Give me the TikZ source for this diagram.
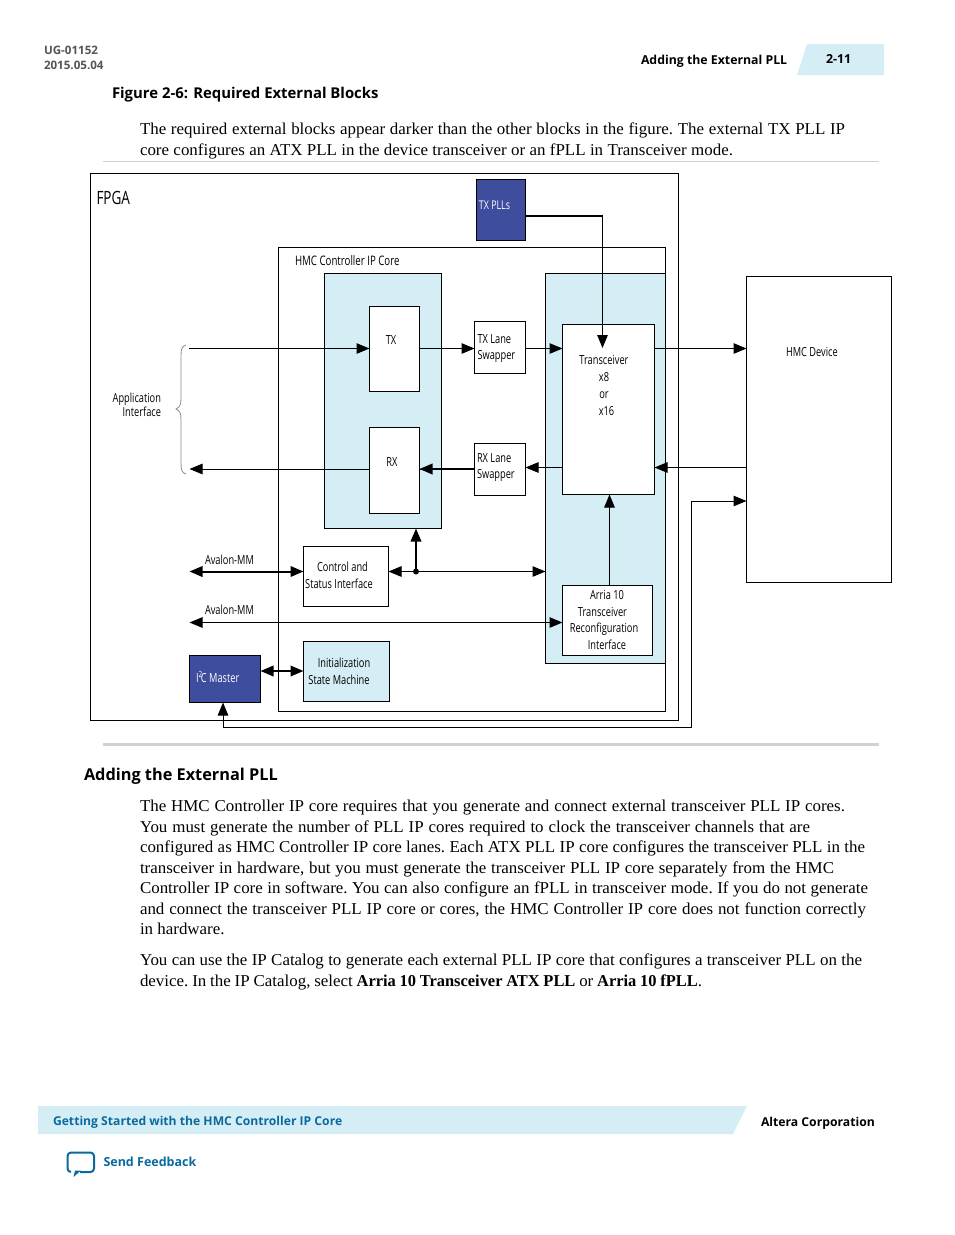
\documentclass[tikz,border=0pt]{standalone}
\usepackage{fontspec}
\setmainfont[FakeStretch=1.02,BoldFeatures={FakeStretch=0.99}]{Liberation Serif}
\newfontfamily\lab[FakeStretch=0.74]{Open Sans}
\newfontfamily\head{Open Sans}
\usetikzlibrary{arrows.meta,calc}
\definecolor{pale}{HTML}{D5EEF6}
\definecolor{navy}{HTML}{3F4D9F}
\definecolor{link}{HTML}{0A6A9E}
\definecolor{hdgray}{HTML}{555555}
\hbadness=10000
\hfuzz=20pt
\newcommand{\jl}[2]{\hbox to #1pt{#2}}
\tikzset{
 x=1pt,y=-1pt,
 box/.style={draw=black,line width=1pt,anchor=north west,inner sep=0pt,outer sep=0pt},
 lbl/.style={inner sep=0pt,outer sep=0pt,font=\lab\fontsize{12.5}{16.6}\selectfont,text=black,align=center},
 conn/.style={line width=1pt,draw=black},
 thick conn/.style={line width=2pt,draw=black},
 tip/.style={-{Triangle[length=13pt,width=10.5pt]}},
 tips/.style={{Triangle[length=13pt,width=10.5pt]}-{Triangle[length=13pt,width=10.5pt]}},
 body/.style={anchor=base west,inner sep=0pt,outer sep=0pt,font=\frenchspacing\fontsize{16.6}{20}\selectfont},
 hd/.style={anchor=base west,inner sep=0pt,outer sep=0pt,font=\head\bfseries\fontsize{14.9}{18}\selectfont},
 small/.style={anchor=base west,inner sep=0pt,outer sep=0pt,font=\head\bfseries\fontsize{11.6}{14}\selectfont},
}
\newcommand{\boxat}[7][]{\node[box,#1,minimum width=#6pt-#4pt,minimum height=#7pt-#5pt] (#2) at (#4,#5) {#3};}
\begin{document}
\begin{tikzpicture}
\useasboundingbox (0,0) rectangle (954,1235);
\fill[white] (0,0) rectangle (954,1235);
% header
\node[small,text=hdgray] (doc) at (44,54) {UG-01152};
\node[small,text=hdgray] (date) at (44,69) {2015.05.04};
\node[small,text=black,font=\head\bfseries\fontsize{12.3}{14}\selectfont] (sect) at (641,64) {Adding the External PLL};
\fill[pale] (807,44) -- (884,44) -- (884,75) -- (797,75) -- cycle;
\node[small,text=black,font=\head\bfseries\fontsize{12.4}{14}\selectfont] (pg) at (826,63) {2-11};
\node[hd] (fig) at (112,98) {Figure 2-6: Required External Blocks};
\node[body] (c1) at (140,134) {\jl{705}{The required external blocks appear darker than the other blocks in the figure. The external TX PLL IP}};
\node[body] (c2) at (140,155) {\jl{593}{core configures an ATX PLL in the device transceiver or an fPLL in Transceiver mode.}};
\draw[line width=.8pt,draw=black!18] (103,161.5) -- (879,161.5);
% diagram
\boxat{fpga}{}{90.5}{173.5}{678.5}{720.5}
\boxat{core}{}{278.5}{247.5}{665.5}{711.5}
\boxat[fill=pale]{lblue}{}{324.5}{273.5}{441.5}{528.5}
\boxat[fill=pale]{rblue}{}{545.5}{273.5}{665.5}{663.5}
\boxat[fill=navy]{pll}{}{476.5}{179.5}{525.5}{240.5}
\boxat[fill=white]{tx}{}{369.5}{306.5}{419.5}{391.5}
\boxat[fill=white]{rx}{}{369.5}{427.5}{419.5}{513.5}
\boxat[fill=white]{txs}{}{474.5}{321.5}{525.5}{373.5}
\boxat[fill=white]{rxs}{}{474.5}{443.5}{525.5}{495.5}
\boxat[fill=white]{trx}{}{562.5}{324.5}{654.5}{494.5}
\boxat[fill=white]{hmc}{}{746.5}{276.5}{891.5}{582.5}
\boxat[fill=white]{csr}{}{303.5}{546.5}{388.5}{606.5}
\boxat[fill=pale]{init}{}{303.5}{641.5}{389.5}{701.5}
\boxat[fill=navy]{i2c}{}{189.5}{655.5}{260.5}{702.5}
\boxat[fill=white]{arria}{}{562.5}{585.5}{652.5}{655.5}
% labels
\node[lbl,font=\lab\fontsize{18.3}{22}\selectfont,anchor=base west] (lf) at (96.5,204) {FPGA};
\node[lbl,text=white,font=\lab\fontsize{12}{15}\selectfont] (lp) at (494.5,205) {TX PLLs};
\node[lbl,font=\lab\fontsize{13.1}{16}\selectfont,anchor=base west] (lc) at (295,265) {HMC Controller IP Core};
\node[lbl] (ltx) at (391,340.5) {TX};
\node[lbl] (lrx) at (392,462.5) {RX};
\node[lbl,align=left,anchor=west] (lts) at (477.5,348.5) {TX Lane\\Swapper};
\node[lbl,align=left,anchor=west] (lrs) at (477,467.5) {RX Lane\\Swapper};
\node[lbl,font=\lab\fontsize{12.5}{17}\selectfont] (ltr) at (604,385) {Transceiver\\x8\\or\\\hspace*{5pt}x16};
\node[lbl,align=left,anchor=west] (lhd) at (786,352) {HMC Device};
\node[lbl,align=right,anchor=east,font=\lab\fontsize{12.5}{14}\selectfont] (lap) at (161,405) {Application\\Interface};
\node[lbl] (lcs) at (339,575.5) {\hspace*{7pt}Control and\\Status Interface};
\node[lbl] (lin) at (339,671.5) {\hspace*{10pt}Initialization\\State Machine};
\node[lbl,text=white,anchor=west] (li2) at (196,676.5) {I\raisebox{5pt}{\fontsize{8.5}{8}\selectfont 2}\kern-1.2pt C Master};
\node[lbl,font=\lab\fontsize{12.5}{16.7}\selectfont] (lar) at (604,620) {\hspace*{6pt}Arria 10\\\hspace*{-3pt}Transceiver\\Reconfiguration\\\hspace*{6pt}Interface};
\node[lbl,anchor=base west] (la1) at (205,564.5) {Avalon-MM};
\node[lbl,anchor=base west] (la2) at (205,614) {Avalon-MM};
% helper coordinates
\coordinate (yt) at (0,348.5);
\coordinate (yr) at (0,469);
\coordinate (yq) at (0,467.5);
\coordinate (yc) at (0,571.5);
\coordinate (ya) at (0,622.5);
\coordinate (yi) at (0,671);
\coordinate (appin) at (189,348.5);
\coordinate (appout) at (189.5,469);
\coordinate (av1) at (189.5,571.5);
\coordinate (av2) at (189.5,622.5);
\coordinate (plc) at (602.5,216);
\coordinate (pld) at (602.5,348);
\coordinate (dot) at (416,571.5);
\coordinate (brk1) at (691.5,727.5);
\coordinate (brk2) at (691.5,501);
\coordinate (brk0) at (223,727.5);
\coordinate (up) at (609.5,0);
% connectors
\draw[conn,tip] (appin) -- (tx.west |- yt);
\draw[conn,tip] (tx.east |- yt) -- (txs.west |- yt);
\draw[conn,tip] (txs.east |- yt) -- (trx.west |- yt);
\draw[conn,tip] (trx.east |- yt) -- (hmc.west |- yt);
\draw[conn,tip] (rx.west |- yr) -- (appout);
\draw[conn] (rx.east |- yr) -- (rxs.west |- yr);
\draw[thick conn,tip] (rxs.west |- yr) -- (rx.east |- yr);
\draw[conn,tip] (trx.west |- yq) -- (rxs.east |- yq);
\draw[conn,tip] (hmc.west |- yq) -- (trx.east |- yq);
\draw[thick conn] (pll.east |- plc) -- (plc);
\draw[conn,tip] (plc) -- (pld);
\draw[conn,tip] (up |- arria.north) -- (up |- trx.south);
\draw[conn] (brk0) -- (brk1) -- (brk2);
\draw[conn,tip] (brk2) -- (hmc.west |- brk2);
\draw[conn,tip] (brk0) -- (brk0 |- i2c.south);
\draw[thick conn,tips] (av1) -- (csr.west |- yc);
\draw[conn,tips] (csr.east |- yc) -- (rblue.west |- yc);
\draw[thick conn,tip] (dot) -- (dot |- lblue.south);
\fill (dot) circle (3pt);
\draw[conn,tips] (av2) -- (arria.west |- ya);
\draw[thick conn,tips] (i2c.east |- yi) -- (init.west |- yi);
% brace
\draw[line width=.8pt,draw=black!45] (186,345) .. controls (182,346) and (181,349) .. (181,356) -- (181,398) .. controls (181,405) and (180,407) .. (176,409) .. controls (180,411) and (181,413) .. (181,420) -- (181,463) .. controls (181,470) and (182,473) .. (186,474);
% lower text
\draw[line width=3pt,draw=black!18] (103,744.5) -- (879,744.5);
\node[hd,font=\head\bfseries\fontsize{16.3}{20}\selectfont] (sec) at (84,780) {Adding the External PLL};
\node[body] (b1) at (140,811) {\jl{705}{The HMC Controller IP core requires that you generate and connect external transceiver PLL IP cores.}};
\node[body] (b2) at (140,832) {\jl{670}{You must generate the number of PLL IP cores required to clock the transceiver channels that are}};
\node[body] (b3) at (140,852.5) {\jl{725}{configured as HMC Controller IP core lanes. Each ATX PLL IP core configures the transceiver PLL in the}};
\node[body] (b4) at (140,873) {\jl{694}{transceiver in hardware, but you must generate the transceiver PLL IP core separately from the HMC}};
\node[body] (b5) at (140,893.5) {\jl{728}{Controller IP core in software. You can also configure an fPLL in transceiver mode. If you do not generate}};
\node[body] (b6) at (140,914) {\jl{726}{and connect the transceiver PLL IP core or cores, the HMC Controller IP core does not function correctly}};
\node[body] (b7) at (140,934.5) {in hardware.};
\node[body] (b8) at (140,965) {\jl{722}{You can use the IP Catalog to generate each external PLL IP core that configures a transceiver PLL on the}};
\node[body] (b9) at (140,986) {\jl{562}{device. In the IP Catalog, select \textbf{Arria 10 Transceiver ATX PLL} or \textbf{Arria 10 fPLL}.}};
% footer
\fill[pale] (38,1106) -- (747,1106) -- (733,1134) -- (38,1134) -- cycle;
\node[small,text=link,font=\head\bfseries\fontsize{12.15}{14}\selectfont] (ft) at (53,1125) {Getting Started with the HMC Controller IP Core};
\node[small,text=black,font=\head\bfseries\fontsize{12.2}{14}\selectfont] (alt) at (761,1126) {Altera Corporation};
\draw[line width=2pt,draw=link,line join=round,rounded corners=3.5pt] (71,1172) -- (67.5,1172) -- (67.5,1152.5) -- (94,1152.5) -- (94,1172) -- (80,1172);
\fill[link] (81,1170.5) -- (73.5,1177) -- (75,1170.5) -- cycle;
\node[small,text=link,font=\head\bfseries\fontsize{12.5}{14}\selectfont] (sf) at (103.5,1166) {Send Feedback};
\end{tikzpicture}
\end{document}
